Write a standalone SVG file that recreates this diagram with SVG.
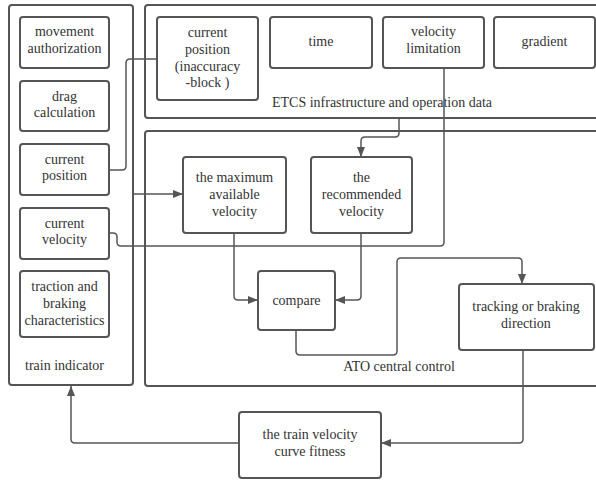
<svg xmlns="http://www.w3.org/2000/svg" width="596" height="480" viewBox="0 0 596 480" font-family="Liberation Serif, serif">
<defs>
<style>
.box{fill:#fff;stroke:#555;stroke-width:2}
.grp{fill:none;stroke:#555;stroke-width:2}
.t{font-size:14px;fill:#333;text-anchor:middle}
.c{fill:none;stroke:#555;stroke-width:1.5}
</style>
<marker id="ah" viewBox="0 0 10 8" refX="10" refY="4" markerWidth="10" markerHeight="8" markerUnits="userSpaceOnUse" orient="auto">
<path d="M0,0 L10,4 L0,8 Z" fill="#555"/>
</marker>
</defs>
<rect width="596" height="480" fill="#fff"/>
<g id="train-indicator">
<rect class="grp" x="9" y="5" width="124" height="380" rx="3"/>
<text class="t" x="64.5" y="370">train indicator</text>
</g>
<g id="etcs">
<rect class="grp" x="145" y="5" width="470" height="113" rx="3"/>
<text class="t" x="382" y="107">ETCS infrastructure and operation data</text>
</g>
<g id="ato">
<rect class="grp" x="145" y="131" width="470" height="255" rx="3"/>
<text class="t" x="399" y="371">ATO central control</text>
</g>
<g id="movement-authorization">
<rect class="box" x="20" y="17" width="89" height="51" rx="3"/>
<text class="t" x="64.5" y="36">movement</text>
<text class="t" x="64.5" y="53">authorization</text>
</g>
<g id="drag-calculation">
<rect class="box" x="20" y="81" width="89" height="50" rx="3"/>
<text class="t" x="64.5" y="101">drag</text>
<text class="t" x="64.5" y="117">calculation</text>
</g>
<g id="current-position">
<rect class="box" x="20" y="144" width="89" height="51" rx="3"/>
<text class="t" x="64.5" y="164">current</text>
<text class="t" x="64.5" y="180">position</text>
</g>
<g id="current-velocity">
<rect class="box" x="20" y="208" width="89" height="51" rx="3"/>
<text class="t" x="64.5" y="228">current</text>
<text class="t" x="64.5" y="244">velocity</text>
</g>
<g id="traction">
<rect class="box" x="20" y="271" width="89" height="66" rx="3"/>
<text class="t" x="64.5" y="291">traction and</text>
<text class="t" x="64.5" y="308">braking</text>
<text class="t" x="64.5" y="325">characteristics</text>
</g>
<g id="current-position-inaccuracy">
<rect class="box" x="157" y="17" width="101" height="83" rx="3"/>
<text class="t" x="207.5" y="37">current</text>
<text class="t" x="207.5" y="54">position</text>
<text class="t" x="207.5" y="71">(inaccuracy</text>
<text class="t" x="207.5" y="87">-block )</text>
</g>
<g id="time">
<rect class="box" x="270" y="17" width="102" height="51" rx="3"/>
<text class="t" x="321" y="46">time</text>
</g>
<g id="velocity-limitation">
<rect class="box" x="383" y="17" width="101" height="51" rx="3"/>
<text class="t" x="433.5" y="36">velocity</text>
<text class="t" x="433.5" y="53">limitation</text>
</g>
<g id="gradient">
<rect class="box" x="494" y="17" width="101" height="51" rx="3"/>
<text class="t" x="544.5" y="46">gradient</text>
</g>
<g id="max-velocity">
<rect class="box" x="183" y="157" width="103" height="76" rx="3"/>
<text class="t" x="234.5" y="182">the maximum</text>
<text class="t" x="234.5" y="199">available</text>
<text class="t" x="234.5" y="216">velocity</text>
</g>
<g id="recommended-velocity">
<rect class="box" x="311" y="157" width="101" height="76" rx="3"/>
<text class="t" x="361.5" y="182">the</text>
<text class="t" x="361.5" y="199">recommended</text>
<text class="t" x="361.5" y="216">velocity</text>
</g>
<g id="compare">
<rect class="box" x="258" y="271" width="77" height="59" rx="3"/>
<text class="t" x="296.5" y="305">compare</text>
</g>
<g id="tracking">
<rect class="box" x="459" y="284" width="135" height="66" rx="3"/>
<text class="t" x="526" y="311">tracking or braking</text>
<text class="t" x="526" y="328">direction</text>
</g>
<g id="curve-fitness">
<rect class="box" x="239" y="412" width="142" height="66" rx="3"/>
<text class="t" x="310" y="439">the train velocity</text>
<text class="t" x="310" y="456">curve fitness</text>
</g>
<g id="connectors">
<path class="c" d="M109,170 H122 Q126,170 126,166 V63 Q126,59 130,59 H157"/>
<path class="c" d="M133,194 H183" marker-end="url(#ah)"/>
<path class="c" d="M109,233 H113 Q117,233 117,237 V242 Q117,246 121,246 H440 Q444,246 444,242 V68"/>
<path class="c" d="M399,118 V133 Q399,137 395,137 H365 Q361,137 361,141 V157" marker-end="url(#ah)"/>
<path class="c" d="M234,233 V296 Q234,300 238,300 H258" marker-end="url(#ah)"/>
<path class="c" d="M361,233 V296 Q361,300 357,300 H335" marker-end="url(#ah)"/>
<path class="c" d="M296,330 V351 Q296,355 300,355 H393 Q397,355 397,351 V262 Q397,258 401,258 H518 Q522,258 522,262 V284" marker-end="url(#ah)"/>
<path class="c" d="M523,350 V439 Q523,443 519,443 H381" marker-end="url(#ah)"/>
<path class="c" d="M239,443 H75 Q71,443 71,439 V386" marker-end="url(#ah)"/>
</g>
</svg>
